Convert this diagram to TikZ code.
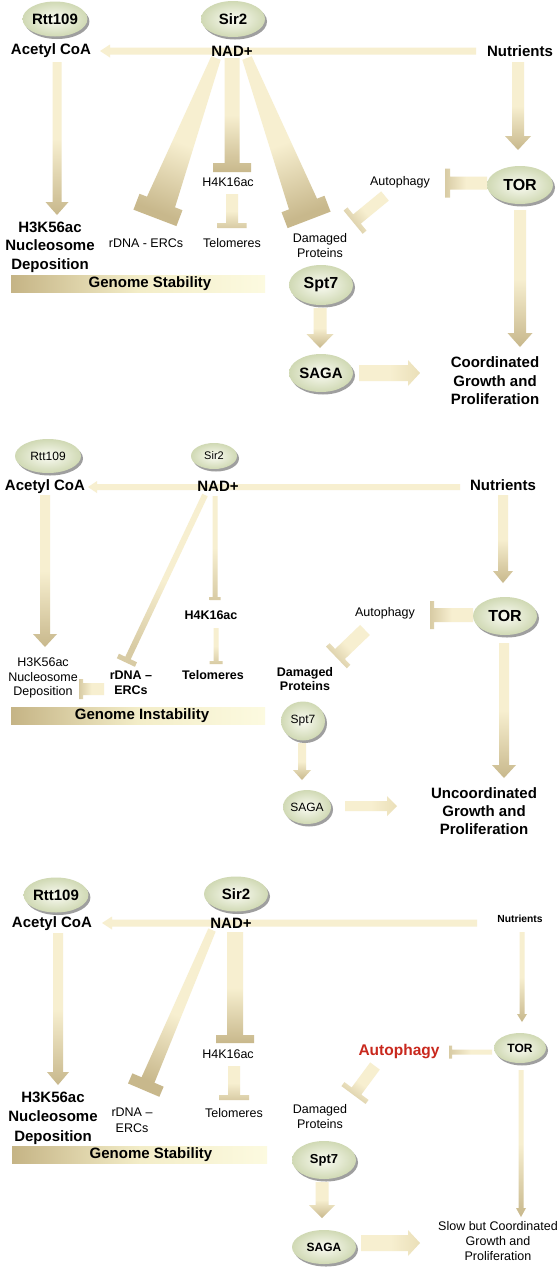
\documentclass[tikz,border=0pt]{standalone}
\usepackage{fontspec}
\setmainfont{Liberation Sans}
\usetikzlibrary{calc,shapes.geometric,shadows}
\definecolor{cream}{HTML}{F7EFD0}
\definecolor{creamD}{HTML}{EADFB8}
\definecolor{tanD}{HTML}{C8B88C}
\definecolor{tanM}{HTML}{D8CBA4}
\definecolor{ellIn}{HTML}{FAFBF3}
\definecolor{ellOut}{HTML}{D0D9B4}
\definecolor{gsL}{HTML}{C5B485}
\definecolor{gsM}{HTML}{F3EDC8}
\definecolor{gsR}{HTML}{FCFAE0}
\definecolor{autored}{HTML}{C9281D}
\pgfdeclarelayer{bg}
\pgfdeclarelayer{arr}
\pgfsetlayers{bg,arr,main}
% block arrow: [style]{from}{to}{body width}{head width}{head length}
\newcommand\blockarrow[6][]{%
  \coordinate (baN) at ($(#3)!#6!(#2)$);
  \path[#1] ($(#2)!#4/2!90:(#3)$) -- ($(baN)!#4/2!-90:(#2)$) -- ($(baN)!#5/2!-90:(#2)$) -- (#3)
    -- ($(baN)!#5/2!90:(#2)$) -- ($(baN)!#4/2!90:(#2)$) -- ($(#2)!#4/2!-90:(#3)$) -- cycle;
}
% inhibition: [style]{from}{to}{tail width}{end width}{bar length}{bar thickness}
\newcommand\inhib[7][]{%
  \coordinate (ibX) at ($(#3)!-#7!(#2)$);
  \path[#1] ($(#2)!#4/2!90:(#3)$) -- ($(#3)!#5/2!-90:(#2)$) -- ($(#3)!#6/2!-90:(#2)$)
    -- ($(ibX)!#6/2!-90:(#2)$) -- ($(ibX)!#6/2!90:(#2)$) -- ($(#3)!#6/2!90:(#2)$)
    -- ($(#3)!#5/2!90:(#2)$) -- ($(#2)!#4/2!-90:(#3)$) -- cycle;
}
\tikzset{
  gdown/.style={top color=cream, bottom color=#1, middle color=cream, shading angle=0},
  gdown/.default=tanD,
  gleft/.style={top color=cream, bottom color=#1, middle color=cream, shading angle=270},
  gleft/.default=tanD,
  gright/.style={top color=cream, bottom color=#1, middle color=cream, shading angle=90},
  gright/.default=tanD,
  gang/.style 2 args={top color=cream, bottom color=#2, middle color=cream, shading angle=#1},
}
\begin{document}
\begin{tikzpicture}[x=1pt,y=-1pt,
  ell/.style={ellipse, inner color=ellIn, outer color=ellOut, inner sep=0pt, align=center,
     drop shadow={shadow xshift=2pt, shadow yshift=-2.5pt, opacity=0.5, fill=black!75}},
  big/.style={font=\bfseries\fontsize{15}{18.5}\selectfont, align=center, inner sep=0pt},
  sm/.style={font=\fontsize{12.5}{15}\selectfont, align=center, inner sep=0pt},
  smb/.style={font=\bfseries\fontsize{12.5}{14.5}\selectfont, align=center, inner sep=0pt},
  gsbar/.style={left color=gsL, right color=gsR, middle color=gsM, minimum width=254pt, minimum height=17pt, inner sep=0pt},
]
\begin{pgfonlayer}{bg}
\fill[white] (0,0) rectangle (558,1267);
\end{pgfonlayer}
\useasboundingbox (0,0) rectangle (558,1267);

% ================= Panel 1 =================
\node[ell, minimum width=64pt, minimum height=35pt, font=\bfseries\fontsize{15}{15}\selectfont] (rtt1) at (55,19) {Rtt109};
\node[ell, minimum width=64pt, minimum height=36pt, font=\bfseries\fontsize{15}{15}\selectfont] (sir1) at (233,19) {Sir2};
\node[big] (acoa1) at (51,51) {Acetyl CoA};
\node[big] (nad1) at (232,51) {NAD+};
\node[big] (nut1) at (520,51) {Nutrients};
\node[ell, minimum width=66pt, minimum height=38pt, font=\bfseries\fontsize{16}{16}\selectfont] (tor1) at (520,185) {TOR};
\node[sm] (auto1) at (400,182) {Autophagy};
\node[sm] (h4k1) at (228,182) {H4K16ac};
\node[big] (h3k1) at (50,247) {H3K56ac\\Nucleosome\\Deposition};
\node[sm] (rdna1) at (146,243) {rDNA - ERCs};
\node[sm] (telo1) at (232,243) {Telomeres};
\node[sm] (dam1) at (320,245.5) {Damaged\\Proteins};
\node[gsbar] (gsb1) at (138,283.5) {};
\node[big] (gs1) at (150,284) {Genome Stability};
\node[ell, minimum width=64pt, minimum height=40pt, font=\bfseries\fontsize{16}{16}\selectfont] (spt1) at (321,285) {Spt7};
\node[ell, minimum width=64pt, minimum height=38pt, font=\bfseries\fontsize{15}{15}\selectfont] (saga1) at (321,373) {SAGA};
\node[big] (coord1) at (495,381) {Coordinated\\Growth and\\Proliferation};

\begin{pgfonlayer}{arr}
\coordinate (A1) at (476,51); \coordinate (B1) at (100,51);
\blockarrow[fill=cream]{A1}{B1}{7pt}{13pt}{10pt}
\coordinate (A2) at (57,62); \coordinate (B2) at (57,215);
\blockarrow[gdown]{A2}{B2}{9pt}{23pt}{13pt}
\coordinate (A3) at (518,62); \coordinate (B3) at (518,150);
\blockarrow[gdown]{A3}{B3}{12pt}{26pt}{14pt}
\coordinate (A4) at (487,183); \coordinate (B4) at (450,183);
\inhib[gleft=tanM]{A4}{B4}{13pt}{13pt}{29pt}{5pt}
\coordinate (A5) at (385,196); \coordinate (B5) at (357,219);
\inhib[gang={-51}{tanM}]{A5}{B5}{12pt}{12pt}{30pt}{5pt}
\coordinate (A6) at (520,210); \coordinate (B6) at (520,347);
\blockarrow[gdown]{A6}{B6}{12pt}{25pt}{14pt}
\coordinate (A7) at (320,308); \coordinate (B7) at (320,348);
\blockarrow[gdown]{A7}{B7}{13pt}{27pt}{14pt}
\coordinate (A8) at (359,373); \coordinate (B8) at (420,373);
\blockarrow[gright=creamD]{A8}{B8}{16pt}{26pt}{12pt}
\coordinate (A9) at (232,58); \coordinate (B9) at (232,163);
\inhib[gdown]{A9}{B9}{15pt}{15pt}{38pt}{9pt}
\coordinate (A10) at (232,194); \coordinate (B10) at (232,223);
\inhib[gdown=tanM]{A10}{B10}{12pt}{12pt}{29pt}{5pt}
\coordinate (A11) at (216,58); \coordinate (B11) at (161,202);
\inhib[gang={-21}{tanD}]{A11}{B11}{10pt}{30pt}{46pt}{17pt}
\coordinate (A12) at (247,58); \coordinate (B12) at (303,204);
\inhib[gang={21}{tanD}]{A12}{B12}{10pt}{30pt}{46pt}{17pt}
\end{pgfonlayer}

% ================= Panel 2 =================
\node[ell, minimum width=66pt, minimum height=34pt, font=\fontsize{12}{12}\selectfont] (rtt2) at (48,456) {Rtt109};
\node[ell, minimum width=46pt, minimum height=26pt, font=\fontsize{11}{11}\selectfont] (sir2) at (214,456) {Sir2};
\node[big] (acoa2) at (45,487) {Acetyl CoA};
\node[big] (nad2) at (218,486) {NAD+};
\node[big] (nut2) at (503,485) {Nutrients};
\node[ell, minimum width=64pt, minimum height=38pt, font=\bfseries\fontsize{16}{16}\selectfont] (tor2) at (505,616) {TOR};
\node[sm] (auto2) at (385,613) {Autophagy};
\node[smb] (h4k2) at (211,615) {H4K16ac};
\node[smb] (telo2) at (213,675) {Telomeres};
\node[smb] (rdna2) at (131,683) {rDNA –\\ERCs};
\node[sm, font=\fontsize{12.5}{14.5}\selectfont] (h3k2) at (43,678) {H3K56ac\\Nucleosome\\Deposition};
\node[smb] (dam2) at (305,679) {Damaged\\Proteins};
\node[gsbar] (gsb2) at (138,716) {};
\node[big] (gs2) at (142,716) {Genome Instability};
\node[ell, minimum width=44pt, minimum height=39pt, font=\fontsize{12}{12}\selectfont] (spt2) at (303,721) {Spt7};
\node[ell, minimum width=48pt, minimum height=34pt, font=\fontsize{12}{12}\selectfont] (saga2) at (307,807) {SAGA};
\node[big, font=\bfseries\fontsize{15}{18}\selectfont] (unc2) at (484,811) {Uncoordinated\\Growth and\\Proliferation};

\begin{pgfonlayer}{arr}
\coordinate (C1) at (460,487); \coordinate (E1) at (88,487);
\blockarrow[fill=cream]{C1}{E1}{6pt}{12pt}{9pt}
\coordinate (C2) at (45,495); \coordinate (E2) at (45,647);
\blockarrow[gdown]{C2}{E2}{10pt}{24pt}{13pt}
\coordinate (C3) at (503,495); \coordinate (E3) at (503,583);
\blockarrow[gdown]{C3}{E3}{10pt}{20pt}{12pt}
\coordinate (C4) at (473,615); \coordinate (E4) at (434,615);
\inhib[gleft=tanM]{C4}{E4}{14pt}{14pt}{28pt}{4pt}
\coordinate (C5) at (365,630); \coordinate (E5) at (340,654);
\inhib[gang={-46}{tanM}]{C5}{E5}{14pt}{14pt}{30pt}{5pt}
\coordinate (C6) at (504,643); \coordinate (E6) at (504,778);
\blockarrow[gdown]{C6}{E6}{10pt}{24pt}{13pt}
\coordinate (C7) at (302,743); \coordinate (E7) at (302,780);
\blockarrow[gdown]{C7}{E7}{8pt}{18pt}{10pt}
\coordinate (C8) at (345,806); \coordinate (E8) at (397,806);
\blockarrow[gright=creamD]{C8}{E8}{10pt}{20pt}{10pt}
\coordinate (C9) at (215,496); \coordinate (E9) at (215,597);
\inhib[gdown=tanM]{C9}{E9}{5pt}{5pt}{11pt}{3pt}
\coordinate (C10) at (216,628); \coordinate (E10) at (216,661);
\inhib[gdown=tanM]{C10}{E10}{5pt}{5pt}{13pt}{3pt}
\coordinate (C11) at (205,495); \coordinate (E11) at (128,658);
\inhib[gang={-25}{tanM}]{C11}{E11}{6pt}{6pt}{20pt}{5pt}
\coordinate (C12) at (104,689); \coordinate (E12) at (83,689);
\inhib[gleft=tanM]{C12}{E12}{12pt}{12pt}{20pt}{4pt}
\end{pgfonlayer}

% ================= Panel 3 =================
\node[ell, minimum width=64pt, minimum height=35pt, font=\bfseries\fontsize{15}{15}\selectfont] (rtt3) at (56,895) {Rtt109};
\node[ell, minimum width=64pt, minimum height=35pt, font=\bfseries\fontsize{15}{15}\selectfont] (sir3) at (236,894) {Sir2};
\node[big] (acoa3) at (52,924) {Acetyl CoA};
\node[big] (nad3) at (231,923) {NAD+};
\node[font=\bfseries\fontsize{10.3}{10.3}\selectfont, inner sep=0pt] (nut3) at (520,919) {Nutrients};
\node[ell, minimum width=52pt, minimum height=30pt, font=\bfseries\fontsize{12}{12}\selectfont] (tor3) at (520,1048) {TOR};
\node[font=\bfseries\fontsize{15.5}{15.5}\selectfont, text=autored, inner sep=0pt] (auto3) at (399,1052) {Autophagy};
\node[sm] (h4k3) at (228,1054) {H4K16ac};
\node[sm] (telo3) at (234,1113) {Telomeres};
\node[sm, font=\fontsize{12.5}{16}\selectfont] (rdna3) at (132,1120) {rDNA –\\ERCs};
\node[big, font=\bfseries\fontsize{15}{19.5}\selectfont] (h3k3) at (53,1118) {H3K56ac\\Nucleosome\\Deposition};
\node[sm] (dam3) at (320,1116.5) {Damaged\\Proteins};
\node[gsbar, minimum width=255pt] (gsb3) at (139.5,1154.5) {};
\node[big] (gs3) at (151,1155) {Genome Stability};
\node[ell, minimum width=64pt, minimum height=38pt, font=\bfseries\fontsize{13}{13}\selectfont] (spt3) at (324,1160) {Spt7};
\node[ell, minimum width=64pt, minimum height=34pt, font=\bfseries\fontsize{12}{12}\selectfont] (saga3) at (324,1247) {SAGA};
\node[sm] (slow3) at (498,1241) {Slow but Coordinated\\Growth and\\Proliferation};

\begin{pgfonlayer}{arr}
\coordinate (D1) at (477,923); \coordinate (F1) at (102,923);
\blockarrow[fill=cream]{D1}{F1}{7pt}{13pt}{10pt}
\coordinate (D2) at (58,933); \coordinate (F2) at (58,1085);
\blockarrow[gdown]{D2}{F2}{10pt}{22pt}{13pt}
\coordinate (D3) at (522,932); \coordinate (F3) at (522,1022);
\blockarrow[gdown]{D3}{F3}{5pt}{10pt}{8pt}
\coordinate (D4) at (492,1052); \coordinate (F4) at (452,1052);
\inhib[gleft=tanM]{D4}{F4}{5pt}{5pt}{13pt}{3pt}
\coordinate (D5) at (375,1066); \coordinate (F5) at (356.5,1091);
\inhib[gang={-36}{tanM}]{D5}{F5}{12pt}{12pt}{30pt}{5pt}
\coordinate (D6) at (521,1070); \coordinate (F6) at (521,1217);
\blockarrow[gdown]{D6}{F6}{5pt}{10pt}{9pt}
\coordinate (D7) at (322,1182); \coordinate (F7) at (322,1218);
\blockarrow[gdown]{D7}{F7}{13pt}{26pt}{13pt}
\coordinate (D8) at (361,1243); \coordinate (F8) at (420,1243);
\blockarrow[gright=creamD]{D8}{F8}{16pt}{26pt}{12pt}
\coordinate (D9) at (235,932); \coordinate (F9) at (235,1035);
\inhib[gdown]{D9}{F9}{16pt}{16pt}{38pt}{8pt}
\coordinate (D10) at (234,1066); \coordinate (F10) at (234,1095);
\inhib[gdown=tanM]{D10}{F10}{12pt}{12pt}{30pt}{5pt}
\coordinate (D11) at (212,930); \coordinate (F11) at (148,1080);
\inhib[gang={-23}{tanD}]{D11}{F11}{8pt}{14pt}{34pt}{11pt}
\end{pgfonlayer}
\end{tikzpicture}
\end{document}
